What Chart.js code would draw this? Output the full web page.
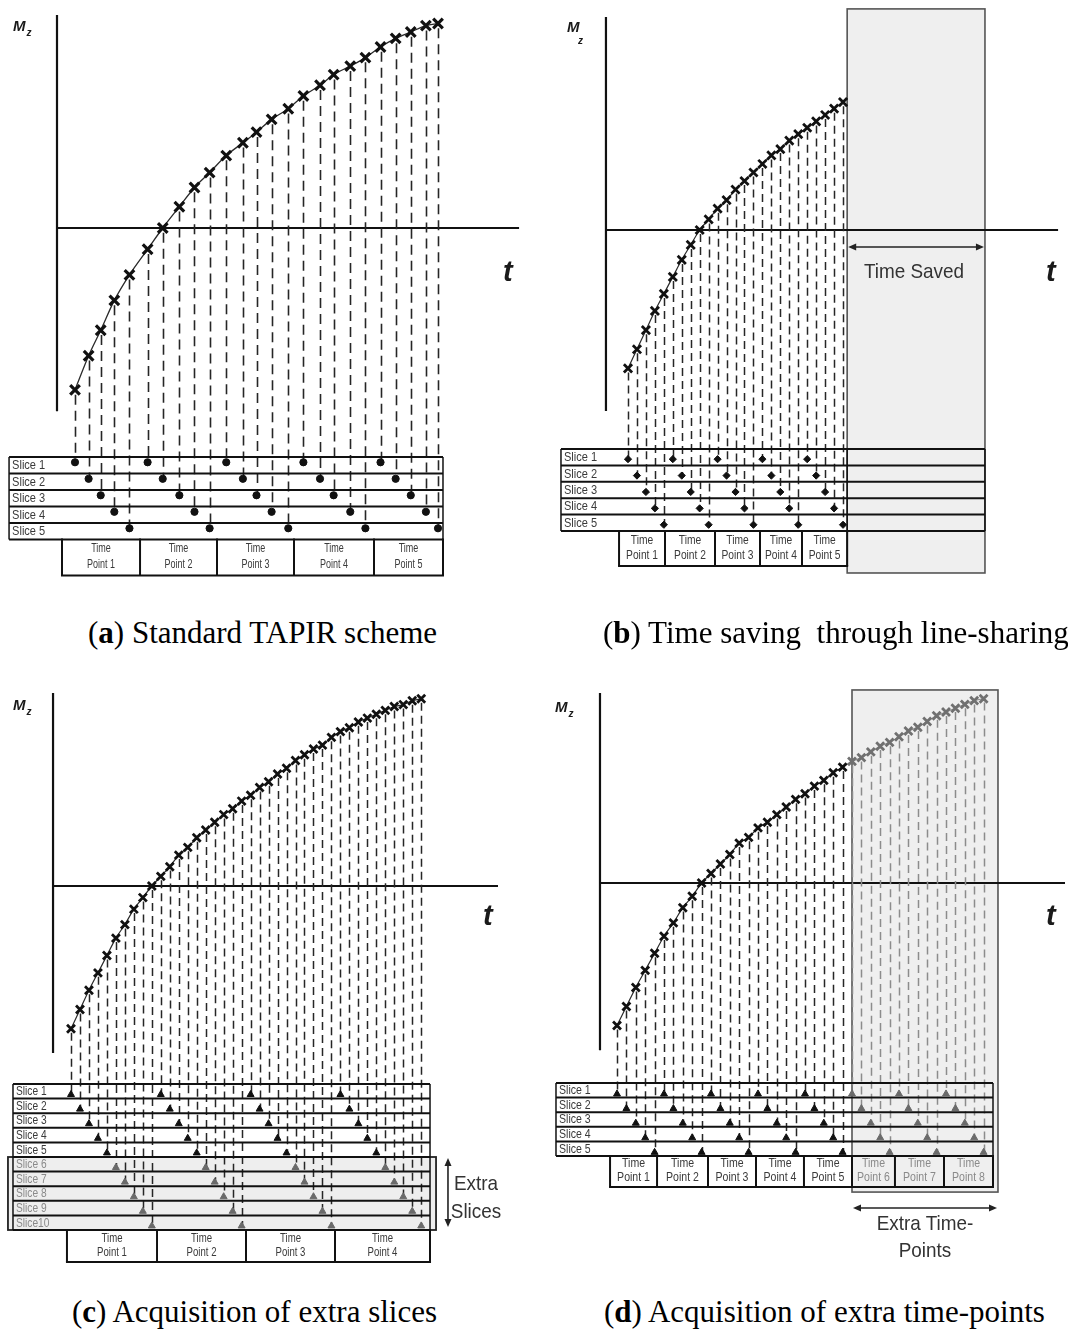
<!DOCTYPE html>
<html lang="en"><head><meta charset="utf-8"><title>TAPIR acquisition schemes</title>
<script src="https://cdn.jsdelivr.net/npm/chart.js@4.4.1/dist/chart.umd.min.js"></script>
<style>
html,body{margin:0;padding:0;background:#ffffff;}
body{position:relative;width:1068px;height:1335px;overflow:hidden;font-family:"Liberation Sans",Arial,Helvetica,sans-serif;}
canvas{position:absolute;}
.lab{position:absolute;white-space:nowrap;line-height:1;color:#1a1a1a;}
.mz{font-style:italic;font-weight:bold;font-size:15px;}
.mz .sub{font-size:10px;position:relative;top:5px;left:1px;}
.tl{font-style:italic;font-weight:bold;font-size:29px;}
.note{font-size:21px;color:#333;transform:scaleX(0.9);transform-origin:center top;text-align:center;}
.cap{position:absolute;white-space:nowrap;line-height:1;font-family:"Liberation Serif","Times New Roman",serif;font-size:31px;color:#000;}
.cap b{font-weight:bold;}
</style></head>
<body>
<canvas id="pa" width="534" height="600" style="left:0px;top:0px"></canvas>
<canvas id="pb" width="534" height="600" style="left:534px;top:0px"></canvas>
<canvas id="pc" width="534" height="640" style="left:0px;top:650px"></canvas>
<canvas id="pd" width="534" height="640" style="left:534px;top:650px"></canvas>

<div class="lab mz" style="left:13px;top:18px">M<span class="sub">z</span></div>
<div class="lab mz" style="left:567px;top:19px">M</div>
<div class="lab mz" style="left:578px;top:36px;font-size:10px">z</div>
<div class="lab mz" style="left:13px;top:697px">M<span class="sub">z</span></div>
<div class="lab mz" style="left:555px;top:699px">M<span class="sub">z</span></div>
<div class="lab tl" style="left:503px;top:257px">t</div>
<div class="lab tl" style="left:1046px;top:257px">t</div>
<div class="lab tl" style="left:483px;top:901px">t</div>
<div class="lab tl" style="left:1046px;top:901px">t</div>
<div class="lab note" style="left:852px;top:260px;width:124px">Time Saved</div>
<div class="lab note" style="left:438px;top:1169px;width:76px;line-height:28px">Extra<br>Slices</div>
<div class="lab note" style="left:855px;top:1209px;width:140px;line-height:27px">Extra Time-<br>Points</div>
<div class="cap" style="left:88px;top:617px">(<b>a</b>) Standard TAPIR scheme</div>
<div class="cap" style="left:603px;top:617px">(<b>b</b>) Time saving&nbsp; through line-sharing</div>
<div class="cap" style="left:72px;top:1296px">(<b>c</b>) Acquisition of extra slices</div>
<div class="cap" style="left:604px;top:1296px">(<b>d</b>) Acquisition of extra time-points</div>

<script>
// ======================= DATA =======================
const sliceNames5  = ["Slice 1","Slice 2","Slice 3","Slice 4","Slice 5"];
const sliceNames10 = ["Slice 1","Slice 2","Slice 3","Slice 4","Slice 5","Slice 6","Slice 7","Slice 8","Slice 9","Slice10"];
const timeWord = "Time";
const timePointLabels = ["Point 1","Point 2","Point 3","Point 4","Point 5","Point 6","Point 7","Point 8"];

// (a) Standard TAPIR scheme: 5 slices x 5 time points
const acqTimeA = [0,0.9,1.7,2.6,3.6,4.8,5.8,6.9,7.9,8.9,10.0,11.1,12.0,13.0,14.1,15.1,16.2,17.1,18.2,19.2,20.2,21.2,22.2,23.2,24.0];
const mzA      = [-0.76,-0.60,-0.48,-0.34,-0.22,-0.10,0.00,0.10,0.19,0.26,0.34,0.40,0.45,0.51,0.56,0.62,0.67,0.72,0.76,0.80,0.85,0.89,0.92,0.95,0.96];
const sliceOfA = [1,2,3,4,5,1,2,3,4,5,1,2,3,4,5,1,2,3,4,5,1,2,3,4,5];
const tpEdgesA = [-0.86,4.30,9.39,14.48,19.77,24.33];

// (b) Time saving through line-sharing
const acqTimeB = [0,1,2,3,4,5,6,7,8,9,10,11,12,13,14,15,16,17,18,19,20,21,22,23,24];
const mzB      = [-0.65,-0.56,-0.47,-0.38,-0.30,-0.22,-0.14,-0.07,0.00,0.05,0.10,0.14,0.19,0.23,0.27,0.31,0.35,0.38,0.42,0.45,0.48,0.51,0.54,0.57,0.60];
const sliceOfB = [1,2,3,4,5,1,2,3,4,5,1,2,3,4,5,1,2,3,4,5,1,2,3,4,5];
const tpEdgesB = [-1.00,4.13,9.71,14.73,19.42,24.46];
const timeSavedB = [24.46,39.84];

// (c) Acquisition of extra slices: 10 slices x 4 time points
const acqTimeC = [0,1,2,3,4,5,6,7,8,9,10,11,12,13,14,15,16,17,18,19,20,21,22,23,24,25,26,27,28,29,30,31,32,33,34,35,36,37,38,39];
const mzC      = [-0.74,-0.64,-0.54,-0.45,-0.36,-0.27,-0.20,-0.12,-0.06,0.00,0.05,0.10,0.16,0.20,0.25,0.29,0.33,0.37,0.40,0.44,0.47,0.51,0.54,0.58,0.61,0.65,0.68,0.71,0.73,0.77,0.80,0.82,0.85,0.87,0.89,0.91,0.93,0.94,0.96,0.97];
const sliceOfC = [1,2,3,4,5,6,7,8,9,10,1,2,3,4,5,6,7,8,9,10,1,2,3,4,5,6,7,8,9,10,1,2,3,4,5,6,7,8,9,10];
const tpEdgesC = [-0.45,9.58,19.49,29.40,39.98];
const firstExtraSliceC = 6;

// (d) Acquisition of extra time-points: 5 slices x 8 time points
const acqTimeD = [0,1,2,3,4,5,6,7,8,9,10,11,12,13,14,15,16,17,18,19,20,21,22,23,24,25,26,27,28,29,30,31,32,33,34,35,36,37,38,39];
const mzD      = [-0.75,-0.65,-0.55,-0.46,-0.37,-0.28,-0.21,-0.13,-0.07,0.00,0.05,0.10,0.15,0.21,0.24,0.29,0.32,0.36,0.40,0.44,0.47,0.51,0.54,0.58,0.61,0.64,0.66,0.69,0.72,0.74,0.77,0.80,0.82,0.85,0.88,0.90,0.92,0.94,0.96,0.97];
const sliceOfD = [1,2,3,4,5,1,2,3,4,5,1,2,3,4,5,1,2,3,4,5,1,2,3,4,5,1,2,3,4,5,1,2,3,4,5,1,2,3,4,5];
const tpEdgesD = [-0.74,4.26,9.68,14.79,19.89,25.00,29.57,34.79,40.00];
const extraTimeD = [25.00,40.53];
const firstExtraTimePointD = 6;

// ======================= LAYOUT =======================
const panels = [
  { canvas:'pa', left:0, top:0, w:534, h:600,
    t:acqTimeA, mz:mzA, slice:sliceOfA, names:sliceNames5, tp:tpEdgesA,
    anchor:{tPx:75, tK:15.125, mzPx:228, mzK:213, rowPx:457, rowK:16.5},
    geo:{axisT:-1.19, axisTop:1.0, axisBot:-0.86, axisEnd:29.36, tabL:-4.36, tabR:24.33, rowsR:24.33, boxRows:2.18, dotOff:0.32},
    sty:{xr:6.8, xw:3.2, dash:[10,6], dashW:1.6, dot:'circle', dotR:3.6, sliceFont:13, sliceSX:0.85, tpFont:12.5, tpSX:0.72, lineW:1.3}
  },
  { canvas:'pb', left:534, top:0, w:534, h:600,
    t:acqTimeB, mz:mzB, slice:sliceOfB, names:sliceNames5, tp:tpEdgesB,
    anchor:{tPx:628, tK:8.96, mzPx:230, mzK:213, rowPx:449, rowK:16.4},
    geo:{axisT:-2.46, axisTop:1.0, axisBot:-0.85, axisEnd:48.0, tabL:-7.48, tabR:24.46, rowsR:timeSavedB[1], boxRows:2.13, dotOff:0.62,
         gray:{t0:timeSavedB[0], t1:timeSavedB[1], mzTop:1.038, rowBot:7.56},
         hArrow:{t0:timeSavedB[0], t1:timeSavedB[1], mz:-0.08}},
    sty:{xr:5.8, xw:2.8, dash:[8,5], dashW:1.5, dot:'rectRot', dotR:3.6, sliceFont:13, sliceSX:0.85, tpFont:12.5, tpSX:0.82, lineW:1.2}
  },
  { canvas:'pc', left:0, top:650, w:534, h:640,
    t:acqTimeC, mz:mzC, slice:sliceOfC, names:sliceNames10, tp:tpEdgesC,
    anchor:{tPx:71, tK:8.98, mzPx:886, mzK:193, rowPx:1084, rowK:14.6},
    geo:{axisT:-2.0, axisTop:1.0, axisBot:-0.865, axisEnd:47.55, tabL:-6.46, tabR:39.98, rowsR:39.98, boxRows:2.19, dotOff:0.72,
         extraBox:{t0:-7.02, t1:40.65, r0:firstExtraSliceC-1, r1:10},
         vArrow:{t:41.98, r0:5.07, r1:9.79}, extraSliceFrom:firstExtraSliceC},
    sty:{xr:5.6, xw:2.8, dash:[8,5], dashW:1.5, dot:'triangle', dotR:4, sliceFont:12, sliceSX:0.85, tpFont:12, tpSX:0.8, lineW:1.2}
  },
  { canvas:'pd', left:534, top:650, w:534, h:640,
    t:acqTimeD, mz:mzD, slice:sliceOfD, names:sliceNames5, tp:tpEdgesD,
    anchor:{tPx:617, tK:9.4, mzPx:883, mzK:190, rowPx:1083, rowK:14.6},
    geo:{axisT:-1.81, axisTop:1.0, axisBot:-0.88, axisEnd:47.66, tabL:-6.49, tabR:40.0, rowsR:40.0, boxRows:2.12, dotOff:0.75,
         gray:{t0:extraTimeD[0], t1:extraTimeD[1], mzTop:1.016, rowBot:7.47},
         hArrow:{t0:extraTimeD[0], t1:extraTimeD[1], row:8.56},
         extraFrom:(firstExtraTimePointD-1)*5, extraTP:firstExtraTimePointD-1},
    sty:{xr:5.6, xw:2.8, dash:[8,5], dashW:1.5, dot:'triangle', dotR:4, sliceFont:12, sliceSX:0.88, tpFont:12, tpSX:0.88, lineW:1.2}
  }
];

const FONT = '"Liberation Sans", Arial, Helvetica, sans-serif';

function nText(ctx, s, x, y, sx, align){
  ctx.save(); ctx.translate(x, y); ctx.scale(sx, 1); ctx.textAlign = align; ctx.fillText(s, 0, 0); ctx.restore();
}
function arrowHead(ctx, x, y, dx, dy, len, half){
  ctx.beginPath();
  ctx.moveTo(x, y);
  ctx.lineTo(x - dx*len - dy*half, y - dy*len + dx*half);
  ctx.lineTo(x - dx*len + dy*half, y - dy*len - dx*half);
  ctx.closePath(); ctx.fill();
}

function makePlugin(P){
  const G = P.geo, S = P.sty;
  const isExtraPt = i => (G.extraFrom != null && i >= G.extraFrom);
  return {
    id: 'scheme_' + P.canvas,
    beforeDatasetsDraw(chart){
      const ctx = chart.ctx;
      const X = v => chart.scales.x.getPixelForValue(v);
      const Y = v => chart.scales.y.getPixelForValue(v);
      const R = v => chart.scales.yRow.getPixelForValue(v);
      const seg = (x1,y1,x2,y2) => { ctx.beginPath(); ctx.moveTo(x1,y1); ctx.lineTo(x2,y2); ctx.stroke(); };
      const nR = P.names.length;
      ctx.save();
      ctx.lineCap = 'butt';

      // shaded regions
      if (G.gray){
        const g = G.gray, x0 = X(g.t0), x1 = X(g.t1), y0 = Y(g.mzTop), y1 = R(g.rowBot);
        ctx.fillStyle = '#efefef'; ctx.fillRect(x0, y0, x1-x0, y1-y0);
        ctx.strokeStyle = '#555'; ctx.lineWidth = 1.6; ctx.strokeRect(x0, y0, x1-x0, y1-y0);
      }
      if (G.extraBox){
        const e = G.extraBox, x0 = X(e.t0), x1 = X(e.t1), y0 = R(e.r0), y1 = R(e.r1);
        ctx.fillStyle = '#eeeeee'; ctx.fillRect(x0, y0, x1-x0, y1-y0);
        ctx.strokeStyle = '#222'; ctx.lineWidth = 1.8; ctx.strokeRect(x0, y0, x1-x0, y1-y0);
      }

      // axes
      ctx.strokeStyle = '#111'; ctx.lineWidth = 2.2;
      seg(X(G.axisT), Y(G.axisTop), X(G.axisT), Y(G.axisBot));
      seg(X(G.axisT), Y(0), X(G.axisEnd), Y(0));

      // dashed projection lines from each sample to its slice row
      ctx.lineWidth = S.dashW; ctx.setLineDash(S.dash);
      P.t.forEach((t, i) => {
        ctx.strokeStyle = isExtraPt(i) ? '#8c8c8c' : '#262626';
        const x = Math.round(X(t)) + 0.5;
        seg(x, Y(P.mz[i]) + S.xr*0.7, x, R(P.slice[i] - 1 + G.dotOff));
      });
      ctx.setLineDash([]);

      // slice rows
      ctx.strokeStyle = '#111'; ctx.lineWidth = 2;
      for (let r = 0; r <= nR; r++) seg(X(G.tabL), R(r), X(G.rowsR), R(r));
      ctx.lineWidth = 1.5;
      seg(X(G.tabL), R(0), X(G.tabL), R(nR));
      seg(X(G.tabR), R(0), X(G.tabR), R(nR));
      if (G.rowsR !== G.tabR) seg(X(G.rowsR), R(0), X(G.rowsR), R(nR));

      // slice labels
      ctx.font = S.sliceFont + 'px ' + FONT; ctx.textBaseline = 'middle';
      P.names.forEach((nm, r) => {
        ctx.fillStyle = (G.extraSliceFrom && r + 1 >= G.extraSliceFrom) ? '#8a8a8a' : '#3a3a3a';
        nText(ctx, nm, X(G.tabL) + 3, R(r + 0.5) + 0.5, S.sliceSX, 'left');
      });

      // time point boxes
      const tp = P.tp, yb0 = R(nR), yb1 = R(nR + G.boxRows);
      ctx.strokeStyle = '#111'; ctx.lineWidth = 2;
      tp.forEach(e => seg(X(e), yb0 - 1, X(e), yb1));
      seg(X(tp[0]) - 1, yb1, X(tp[tp.length-1]) + 1, yb1);
      ctx.font = S.tpFont + 'px ' + FONT;
      for (let k = 0; k < tp.length - 1; k++){
        const cx = X((tp[k] + tp[k+1]) / 2);
        ctx.fillStyle = (G.extraTP != null && k >= G.extraTP) ? '#8a8a8a' : '#3a3a3a';
        nText(ctx, timeWord, cx, R(nR + G.boxRows*0.26), S.tpSX, 'center');
        nText(ctx, timePointLabels[k], cx, R(nR + G.boxRows*0.71), S.tpSX, 'center');
      }

      // arrows
      ctx.strokeStyle = '#222'; ctx.fillStyle = '#222'; ctx.lineWidth = 1.6;
      if (G.hArrow){
        const a = G.hArrow, y = (a.mz != null) ? Y(a.mz) : R(a.row);
        const x0 = X(a.t0) + 1, x1 = X(a.t1) - 1;
        seg(x0 + 4, y, x1 - 4, y);
        arrowHead(ctx, x0, y, -1, 0, 8, 3.5);
        arrowHead(ctx, x1, y, 1, 0, 8, 3.5);
      }
      if (G.vArrow){
        const a = G.vArrow, x = X(a.t), y0 = R(a.r0), y1 = R(a.r1);
        seg(x, y0 + 4, x, y1 - 4);
        arrowHead(ctx, x, y0, 0, -1, 8, 3.5);
        arrowHead(ctx, x, y1, 0, 1, 8, 3.5);
      }
      ctx.restore();
    }
  };
}

function buildPanel(P){
  const A = P.anchor, G = P.geo, S = P.sty;
  const xl = A.tPx - P.left, yl = A.mzPx - P.top, rl = A.rowPx - P.top;
  const isExtraPt = i => (G.extraFrom != null && i >= G.extraFrom);
  const dotGray = i => isExtraPt(i) || (G.extraSliceFrom && P.slice[i] >= G.extraSliceFrom);
  new Chart(document.getElementById(P.canvas), {
    type: 'line',
    data: {
      datasets: [
        { label: 'Mz', yAxisID: 'y',
          data: P.t.map((t, i) => ({ x: t, y: P.mz[i] })),
          borderColor: '#2a2a2a', borderWidth: S.lineW, cubicInterpolationMode: 'monotone', fill: false,
          segment: { borderColor: c => isExtraPt(c.p1DataIndex) ? '#8a8a8a' : '#2a2a2a' },
          pointStyle: 'crossRot', pointRadius: S.xr, pointBorderWidth: S.xw,
          pointBorderColor: c => isExtraPt(c.dataIndex) ? '#707070' : '#111',
          pointBackgroundColor: '#111', clip: false },
        { label: 'readout', yAxisID: 'yRow', showLine: false,
          data: P.t.map((t, i) => ({ x: t, y: P.slice[i] - 1 + G.dotOff })),
          pointStyle: S.dot, pointRadius: S.dotR, pointBorderWidth: 1,
          pointBackgroundColor: c => dotGray(c.dataIndex) ? '#6a6a6a' : '#111',
          pointBorderColor: c => dotGray(c.dataIndex) ? '#6a6a6a' : '#111',
          clip: false }
      ]
    },
    options: {
      responsive: false, maintainAspectRatio: false, animation: false, devicePixelRatio: 1, events: [],
      layout: { padding: 0, autoPadding: false },
      plugins: { legend: { display: false }, tooltip: { enabled: false }, title: { display: false } },
      scales: {
        x:    { type: 'linear', display: false, bounds: 'data', min: -xl / A.tK, max: (P.w - xl) / A.tK },
        y:    { type: 'linear', display: false, bounds: 'data', min: (yl - P.h) / A.mzK, max: yl / A.mzK },
        yRow: { type: 'linear', axis: 'y', display: false, bounds: 'data', reverse: true, min: -rl / A.rowK, max: (P.h - rl) / A.rowK }
      }
    },
    plugins: [makePlugin(P)]
  });
}

panels.forEach(buildPanel);
</script>
</body></html>
